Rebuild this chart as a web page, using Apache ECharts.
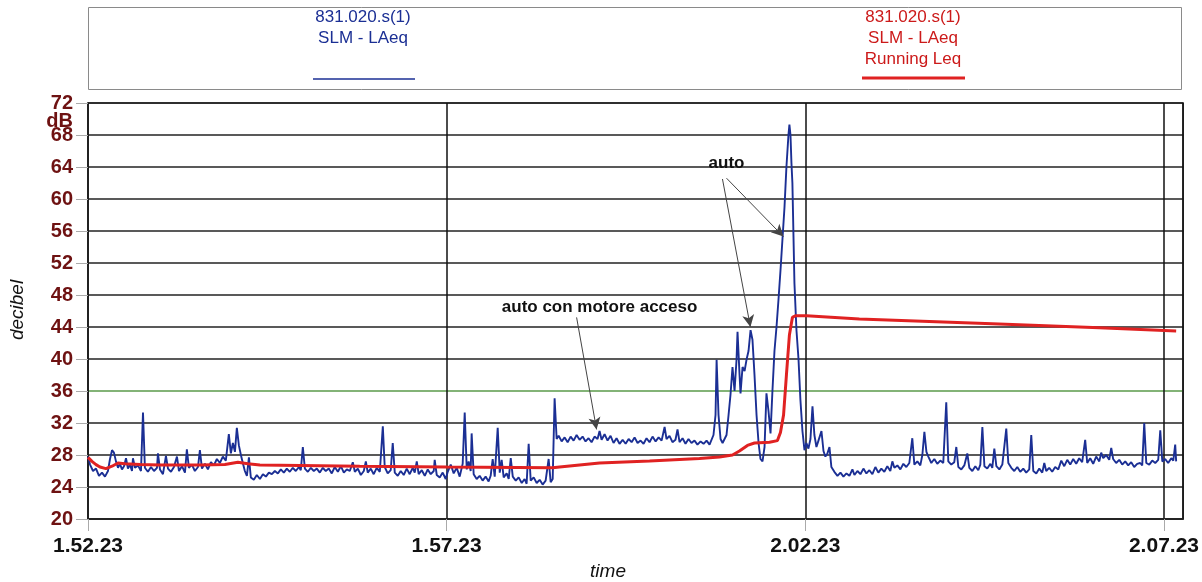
<!DOCTYPE html>
<html>
<head>
<meta charset="utf-8">
<script src="https://cdn.jsdelivr.net/npm/echarts@6/dist/echarts.min.js"></script>
<style>
html,body{margin:0;padding:0;background:#fff;}
#chart{width:1202px;height:582px;}
</style>
</head>
<body>
<div id="chart"></div>
<script>
// time in seconds after 1.52.23, level in dB
const startSeconds = 1 * 3600 + 52 * 60 + 23;
const xTickLabels = ['1.52.23', '1.57.23', '2.02.23', '2.07.23'];
const yTicks = [20, 24, 28, 32, 36, 40, 44, 48, 52, 56, 60, 64, 68, 72];

const laeq = [
[0,27.8],[1.7,26.8],[4.2,26.0],[6.7,26.3],[9.2,25.4],[11.7,25.8],[14.2,25.3],[16.7,26.0],[18.4,27.5],[20.1,28.6],[21.7,28.3],[23.4,27.2],[25.1,26.4],[26.7,26.9],[28.4,26.2],[30.1,26.6],[31.8,27.6],[33.4,26.3],[35.1,26.8],[36.8,26.0],[37.6,27.6],[39.3,26.4],[41.8,26.7],[44.3,26.0],[46.0,33.3],[47.6,26.4],[50.1,25.9],[52.7,26.5],[55.2,26.0],[57.7,26.4],[58.5,28.2],[60.2,26.2],[62.7,25.6],[65.2,27.9],[66.9,26.3],[69.4,25.9],[71.9,26.5],[74.4,27.8],[76.1,26.0],[78.6,26.6],[81.1,25.8],[82.7,28.7],[84.4,26.4],[86.9,26.8],[89.4,26.0],[92.0,26.5],[93.6,28.6],[95.3,26.3],[97.8,26.9],[100.3,26.2],[102.8,27.1],[105.3,26.7],[107.8,27.5],[110.3,27.0],[112.8,27.8],[115.3,27.3],[117.8,30.6],[119.5,28.2],[121.2,29.5],[122.9,28.4],[124.5,31.4],[126.2,29.2],[127.9,28.0],[129.5,27.0],[131.2,26.0],[132.9,25.4],[134.6,27.7],[136.2,25.2],[138.7,24.9],[141.2,25.5],[143.8,25.0],[146.3,25.6],[148.8,25.3],[151.3,25.8],[153.8,25.6],[156.3,26.0],[158.8,25.7],[161.3,26.2],[163.8,25.8],[166.3,26.3],[168.8,25.9],[171.3,26.4],[173.8,26.0],[176.4,26.5],[178.0,26.1],[179.7,29.0],[181.4,26.3],[183.9,25.9],[186.4,26.4],[188.9,26.0],[191.4,26.3],[193.9,25.8],[196.4,26.4],[198.9,26.0],[201.4,26.3],[203.9,25.7],[206.4,26.5],[209.0,25.9],[211.5,26.6],[214.0,25.8],[216.5,26.2],[219.0,26.0],[221.5,27.1],[223.2,25.9],[225.7,26.3],[228.2,25.5],[230.7,26.0],[232.4,27.2],[234.0,25.8],[236.5,26.3],[239.0,25.6],[241.5,26.4],[244.1,25.9],[246.6,31.6],[248.2,26.5],[250.7,25.7],[253.2,26.1],[254.9,29.5],[256.6,25.8],[259.1,25.4],[261.6,26.0],[264.1,25.5],[266.6,26.3],[269.1,25.6],[271.6,26.4],[273.3,25.8],[275.0,27.2],[276.6,25.6],[279.2,26.1],[281.7,25.4],[284.2,26.2],[286.7,25.6],[289.2,26.0],[290.0,27.4],[291.7,25.5],[294.2,25.2],[296.7,25.8],[299.2,25.0],
[300.9,25.9],[303.4,26.8],[305.9,25.7],[308.4,26.4],[310.9,25.3],[313.4,26.9],[315.1,33.3],[316.8,26.2],[318.4,27.2],[320.1,26.0],[320.9,30.7],[322.6,25.6],[325.1,25.0],[327.6,25.4],[330.1,24.8],[332.6,25.3],[335.1,24.7],[336.8,25.4],[338.5,27.5],[340.2,25.3],[342.7,31.4],[344.4,25.8],[346.0,27.4],[347.7,25.2],[350.2,25.7],[351.9,25.0],[353.6,27.6],[355.3,25.3],[357.8,24.8],[360.2,25.2],[362.8,24.5],[365.2,25.0],[366.9,24.4],[368.6,29.4],[370.3,24.8],[372.8,25.2],[375.3,24.5],[377.8,24.9],[380.3,24.3],[382.8,24.8],[385.3,27.5],[387.0,24.6],[388.7,25.0],[390.3,35.1],[392.0,30.0],
[393.7,30.4],[396.2,29.7],[398.7,30.2],[401.2,29.6],[403.7,30.3],[406.2,29.8],[408.7,30.5],[411.2,29.9],[413.7,30.3],[416.2,29.7],[418.7,30.1],[421.2,29.6],[423.7,30.3],[426.2,30.0],[427.9,31.0],[429.6,29.9],[432.1,30.6],[434.6,29.8],[437.1,30.4],[439.6,29.5],[442.1,30.1],[444.6,29.4],[447.2,29.9],[449.7,29.4],[452.2,30.0],[454.7,29.6],[457.2,30.2],[459.7,29.5],[462.2,29.8],[464.7,29.4],[467.2,30.1],[469.7,29.6],[472.2,30.3],[474.8,29.7],[477.3,30.2],[479.8,29.8],[482.3,31.5],[483.9,30.0],[486.4,30.4],[488.9,29.6],[491.4,29.9],[493.1,31.2],[494.8,29.6],[497.3,30.1],[499.8,29.4],[502.3,30.0],[504.8,29.5],[507.3,29.8],[509.8,29.3],[512.4,29.7],[514.9,29.4],[517.4,29.8],[519.9,29.3],[521.5,29.5],[523.2,30.5],[524.9,33.0],[525.8,39.9],[527.4,33.0],[529.1,30.0],[530.8,29.5],[532.4,29.3],[534.1,30.5],[535.8,33.0],[537.4,35.5],[539.1,39.0],[540.8,36.0],[542.5,40.0],[543.3,43.4],[545.0,38.0],[545.8,35.7],[547.5,39.0],[549.2,38.5],[550.8,39.9],[552.5,41.0],[554.2,43.6],[555.8,42.4],[557.5,38.0],[559.2,33.0],[560.9,29.5],[562.5,27.5],[564.2,27.2],[565.9,29.0],[567.5,35.7],[569.2,33.5],[570.9,30.7],[572.5,36.0],[574.2,41.0],[575.9,44.0],[577.6,47.5],[579.2,51.0],[580.9,55.0],[582.6,59.0],[584.2,64.0],[585.9,68.0],[586.7,69.3],[587.6,68.0],[588.4,64.5],[589.2,62.0],[590.9,49.5],[592.6,43.6],[594.3,40.0],[595.9,34.9],[597.6,31.0],[599.3,28.6],
[600.9,29.5],[602.6,28.8],[604.3,30.0],[606.0,34.1],[607.6,30.5],[609.3,29.0],[611.0,29.8],[613.5,31.0],[615.2,28.5],[616.8,27.8],[618.5,28.2],[620.2,29.0],[621.8,26.5],[624.3,25.9],[626.9,25.4],[629.4,25.8],[631.9,25.3],[634.4,25.7],[636.9,25.4],[639.4,26.2],[641.1,25.5],[643.6,26.0],[646.1,25.6],[648.6,26.3],[651.1,25.7],[653.6,26.1],[656.1,25.6],[658.6,26.5],[661.1,25.8],[663.6,26.3],[666.1,25.9],[668.6,26.6],[671.1,26.0],[672.8,27.2],[674.5,26.4],[677.0,26.7],[679.5,26.2],[682.0,26.9],[684.5,26.5],[687.0,27.0],[689.5,30.1],[691.2,26.8],[693.7,27.2],[696.2,26.7],[697.9,28.0],[699.6,30.9],[701.3,28.4],[702.9,27.8],[705.4,27.0],[707.9,27.5],[710.4,26.9],[712.9,27.3],[715.4,27.0],[717.9,34.6],[719.6,27.2],[722.1,26.8],[724.6,27.1],[726.3,29.0],[728.0,26.5],[730.5,26.2],[733.0,26.7],[735.5,28.2],[737.2,26.4],[739.7,26.0],[742.2,26.6],[744.7,26.1],[746.4,26.8],[748.1,31.5],[749.8,26.6],[752.2,26.3],[754.8,26.9],[756.4,26.4],[758.1,28.8],[759.8,26.6],[762.3,26.2],[764.8,26.8],[766.4,27.0],[768.1,31.3],[769.8,27.0],[772.3,26.4],[774.8,26.0],[777.3,26.5],[779.8,25.9],[782.3,26.3],[784.8,25.8],[787.3,26.2],[789.0,30.5],[790.7,26.0],[793.2,25.7],[795.7,26.3],[798.2,25.8],[799.9,27.0],[801.5,26.0],[804.0,26.4],[806.5,25.9],[809.0,26.5],[811.6,26.2],[814.1,27.3],[816.6,26.6],[819.1,27.4],[821.6,26.8],[824.1,27.5],[826.6,26.9],[829.1,27.6],[831.6,27.1],[834.1,29.9],[835.8,27.0],[838.3,27.6],[840.8,26.9],[843.3,27.8],[845.9,27.2],[847.5,28.3],[849.2,27.6],[851.7,28.0],[854.2,27.4],[855.9,28.9],[857.5,27.5],[860.0,27.0],[862.6,27.4],[865.1,26.8],[867.6,27.2],[870.1,26.7],[872.6,27.1],[875.1,26.5],[877.6,26.9],[880.1,27.0],[881.8,26.7],[883.5,32.0],[885.2,27.0],[887.7,26.8],[890.2,27.3],[892.7,27.0],[895.2,27.4],[896.9,31.1],[898.6,27.2],[901.0,27.5],[903.5,27.0],[906.1,27.6],[907.8,27.3],[909.4,29.3],[910.2,27.2]
];

const runningLeq = [
[0,27.7],[3.3,27.2],[6.7,26.8],[10.0,26.5],[15.0,26.3],[20.1,26.6],[25.1,27.0],[30.9,26.9],[43.5,26.8],[60.2,26.75],[93.6,26.75],[114.5,26.8],[125.4,27.1],[133.7,26.9],[143.8,26.75],[177.2,26.7],[227.3,26.6],[300,26.5],[388.7,26.4],[394.5,26.5],[427.9,27.0],[469.7,27.25],[511.5,27.55],[528.2,27.75],[539.1,28.0],[544.9,28.5],[551.6,29.2],[557.5,29.5],[570.0,29.6],[576.7,29.8],[579.2,30.8],[581.8,33.0],[584.2,38.0],[586.7,43.0],[589.2,45.2],[591.7,45.4],[601,45.4],[645.2,45.0],[756.4,44.4],[845.9,43.9],[910.2,43.5]
];

const referenceLevel = 36;
const xMax = 916;

const FONT = "'Liberation Sans', Arial, sans-serif";
const maroon = '#6e1212';
const blue = '#1b2f94';
const red = '#e02222';

function fmtTime(v) {
  const t = startSeconds + Math.round(v);
  const h = Math.floor(t / 3600);
  const m = Math.floor((t % 3600) / 60);
  const s = t % 60;
  return h + '.' + String(m).padStart(2, '0') + '.' + String(s).padStart(2, '0');
}

const splitColors = yTicks.map(v => v === referenceLevel ? '#5a9a4a' : '#222');

const chart = echarts.init(document.getElementById('chart'), null, {renderer: 'canvas'});
const option = {
  animation: false,
  backgroundColor: '#fff',
  grid: {left: 88, right: 18, top: 103, bottom: 63, show: true, borderColor: '#222', borderWidth: 1.5, backgroundColor: 'transparent'},
  xAxis: {
    type: 'value', min: 0, max: xMax, interval: 300,
    axisLine: {show: true, lineStyle: {color: '#222', width: 1.5}},
    axisTick: {show: true, length: 12, lineStyle: {color: '#aaa'}},
    splitLine: {show: true, lineStyle: {color: '#111', width: 1.5}},
    axisLabel: {
      showMaxLabel: false, margin: 17,
      formatter: v => { const i = Math.round(v / 300); return xTickLabels[i] !== undefined && v % 300 === 0 ? xTickLabels[i] : ''; },
      fontFamily: FONT, fontSize: 21, fontWeight: 'bold', color: '#111'
    }
  },
  yAxis: {
    type: 'value', min: 20, max: 72, interval: 4,
    axisLine: {show: true, lineStyle: {color: '#222', width: 1.5}},
    axisTick: {show: true, length: 12, lineStyle: {color: '#aaa'}},
    splitLine: {show: true, lineStyle: {color: splitColors, width: 1.5}},
    axisLabel: {margin: 15, fontFamily: FONT, fontSize: 20, fontWeight: 'bold', color: maroon}
  },
  series: [
    {
      name: 'LAeq', type: 'line', data: laeq, showSymbol: false, symbol: 'none',
      lineStyle: {color: blue, width: 1.9}, z: 3,
      markLine: {
        silent: true, symbol: ['none', 'arrow'], symbolSize: [9, 12],
        label: {show: false},
        lineStyle: {color: '#444', width: 1, type: 'solid'},
        data: [
          [{coord: [408.7, 45.2]}, {coord: [425.4, 31.2]}],
          [{coord: [530.7, 62.5]}, {coord: [554.1, 44.0]}],
          [{coord: [534.1, 62.6]}, {coord: [581.7, 55.3]}]
        ]
      }
    },
    {
      name: 'Running Leq', type: 'line', data: runningLeq, showSymbol: false, symbol: 'none',
      lineStyle: {color: red, width: 3}, z: 4
    }
  ]
};
chart.setOption(option);

const p1 = chart.convertToPixel({gridIndex: 0}, [427.9, 46.4]);
const p2 = chart.convertToPixel({gridIndex: 0}, [534.1, 64.4]);

chart.setOption({
  graphic: [
    {type: 'rect', shape: {x: 88.5, y: 7.5, width: 1093, height: 82}, style: {fill: 'none', stroke: '#8a8a8a', lineWidth: 1}},
    {type: 'text', x: 363, y: 17, style: {text: '831.020.s(1)', font: '17px ' + FONT, fill: blue, textAlign: 'center', textVerticalAlign: 'middle'}},
    {type: 'text', x: 363, y: 38, style: {text: 'SLM - LAeq', font: '17px ' + FONT, fill: blue, textAlign: 'center', textVerticalAlign: 'middle'}},
    {type: 'line', shape: {x1: 313, y1: 79, x2: 415, y2: 79}, style: {stroke: blue, lineWidth: 1.5}},
    {type: 'text', x: 913, y: 17, style: {text: '831.020.s(1)', font: '17px ' + FONT, fill: '#cc1a1a', textAlign: 'center', textVerticalAlign: 'middle'}},
    {type: 'text', x: 913, y: 38, style: {text: 'SLM - LAeq', font: '17px ' + FONT, fill: '#cc1a1a', textAlign: 'center', textVerticalAlign: 'middle'}},
    {type: 'text', x: 913, y: 59, style: {text: 'Running Leq', font: '17px ' + FONT, fill: '#cc1a1a', textAlign: 'center', textVerticalAlign: 'middle'}},
    {type: 'line', shape: {x1: 862, y1: 78, x2: 965, y2: 78}, style: {stroke: red, lineWidth: 3}},
    {type: 'text', x: 73, y: 121, style: {text: 'dB', font: 'bold 20px ' + FONT, fill: maroon, textAlign: 'right', textVerticalAlign: 'middle'}},
    {type: 'text', x: 18, y: 310, rotation: Math.PI / 2, style: {text: 'decibel', font: 'italic 19px ' + FONT, fill: '#111', textAlign: 'center', textVerticalAlign: 'middle'}},
    {type: 'text', x: 608, y: 572, style: {text: 'time', font: 'italic 19px ' + FONT, fill: '#111', textAlign: 'center', textVerticalAlign: 'middle'}},
    {type: 'text', x: p1[0], y: p1[1], z: 10, style: {text: 'auto con motore acceso', font: 'bold 17px ' + FONT, fill: '#111', textAlign: 'center', textVerticalAlign: 'middle'}},
    {type: 'text', x: p2[0], y: p2[1], z: 10, style: {text: 'auto', font: 'bold 17px ' + FONT, fill: '#111', textAlign: 'center', textVerticalAlign: 'middle'}}
  ]
});
</script>
</body>
</html>
